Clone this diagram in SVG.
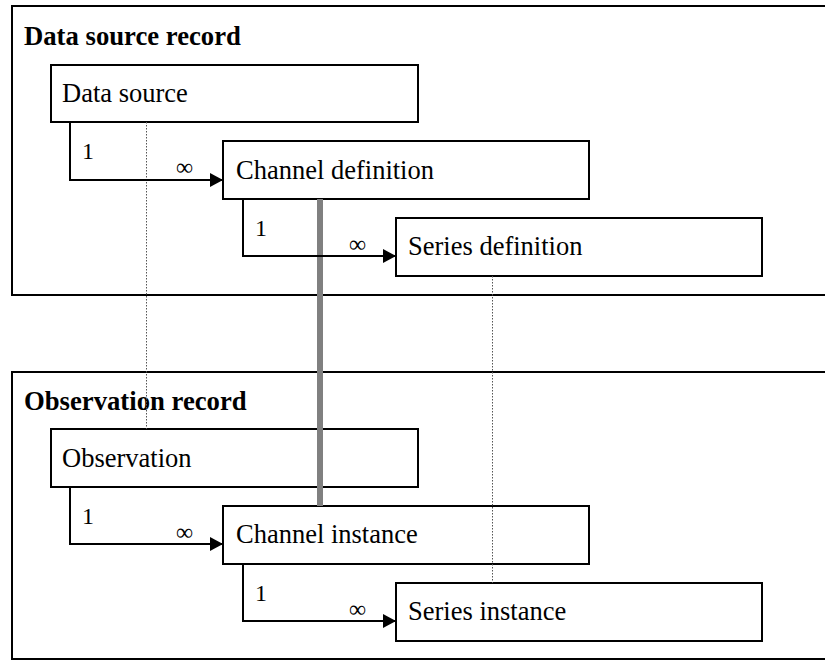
<svg xmlns="http://www.w3.org/2000/svg" width="825" height="660" viewBox="0 0 825 660">
<style>
.frame{fill:none;stroke:#000;stroke-width:2}
.box{fill:#fff;stroke:#000;stroke-width:2}
text{font-family:'Liberation Serif',serif;fill:#000}
.title{font-size:26.7px;font-weight:bold}
.lbl{font-size:26.5px}
.card{font-size:24px}
.rel{fill:none;stroke:#000;stroke-width:2}
.dot{fill:none;stroke:#555;stroke-width:1;stroke-dasharray:1.5 1.5}
.link{fill:none;stroke:#808080;stroke-width:6}
</style>
<defs>
<marker id="arr" markerWidth="13" markerHeight="14" refX="13" refY="7" orient="auto" markerUnits="userSpaceOnUse">
<path d="M0,0 L13,7 L0,14 Z" fill="#000"/>
</marker>
</defs>
<rect width="825" height="660" fill="#fff"/>
<g id="data-source-record">
<rect class="frame" x="12" y="6" width="830" height="289"/>
<text class="title" x="24" y="45">Data source record</text>
</g>
<g id="observation-record">
<rect class="frame" x="12" y="372" width="830" height="287"/>
<text class="title" x="24" y="410">Observation record</text>
</g>
<g id="data-source">
<rect class="box" x="51" y="65" width="367" height="57"/>
<text class="lbl" x="62" y="102">Data source</text>
</g>
<g id="channel-definition">
<rect class="box" x="223" y="141" width="366" height="58"/>
<text class="lbl" x="236" y="179">Channel definition</text>
</g>
<g id="series-definition">
<rect class="box" x="396" y="218" width="366" height="58"/>
<text class="lbl" x="408" y="255">Series definition</text>
</g>
<g id="observation">
<rect class="box" x="51" y="429" width="367" height="58"/>
<text class="lbl" x="62" y="467">Observation</text>
</g>
<g id="channel-instance">
<rect class="box" x="223" y="506" width="366" height="58"/>
<text class="lbl" x="236" y="543">Channel instance</text>
</g>
<g id="series-instance">
<rect class="box" x="396" y="583" width="366" height="58"/>
<text class="lbl" x="408" y="620">Series instance</text>
</g>
<g id="connectors">
<path class="dot" d="M146.5,122 V429"/>
<path class="dot" d="M492.5,276 V583"/>
<path class="link" d="M320,199 V506"/>
<path class="rel" d="M70,122 V180 H223" marker-end="url(#arr)"/>
<path class="rel" d="M243,199 V256 H396" marker-end="url(#arr)"/>
<path class="rel" d="M70,487 V544 H223" marker-end="url(#arr)"/>
<path class="rel" d="M243,564 V621 H396" marker-end="url(#arr)"/>
<text class="card" x="82" y="159">1</text>
<text class="card" x="176" y="175">∞</text>
<text class="card" x="255" y="236">1</text>
<text class="card" x="349" y="252">∞</text>
<text class="card" x="82" y="524">1</text>
<text class="card" x="176" y="540">∞</text>
<text class="card" x="255" y="601">1</text>
<text class="card" x="349" y="617">∞</text>
</g>
</svg>
